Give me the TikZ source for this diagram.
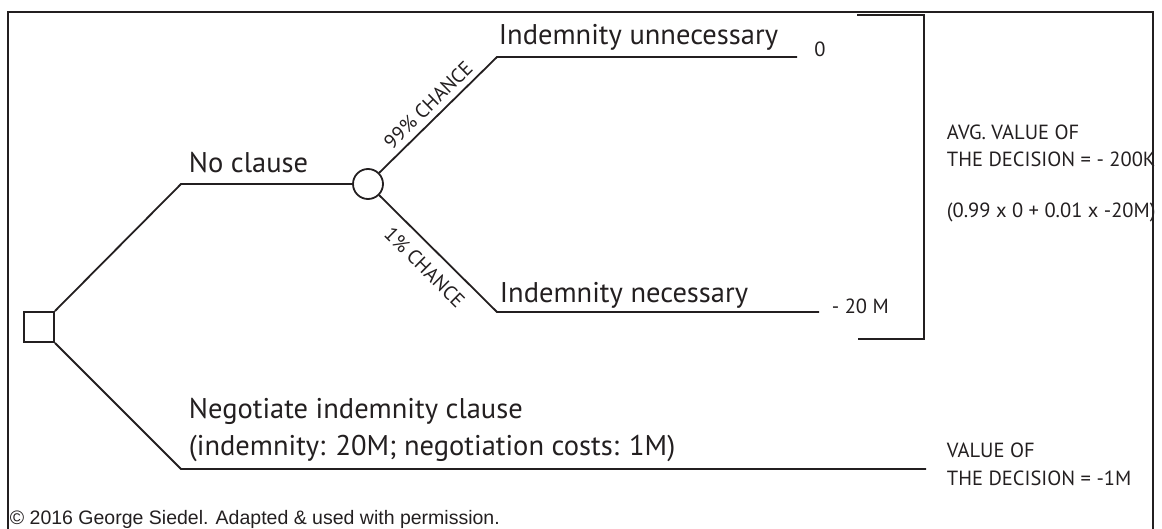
\documentclass[tikz,border=0pt]{standalone}
\usepackage{fontspec}
\setmainfont{PT Sans}
\newfontfamily\credfont{Liberation Sans}
\usetikzlibrary{positioning}
\definecolor{ink}{HTML}{231F20}

\begin{document}
\begin{tikzpicture}[x=1pt,y=-1pt,line width=1.8pt,ink,
    lbl/.style={anchor=base west,inner sep=0pt,font=\fontsize{28.5}{30}\selectfont},
    val/.style={anchor=base west,inner sep=0pt,font=\fontsize{20.5}{22}\selectfont},
    prob/.style={sloped,inner sep=0pt,font=\fontsize{20}{22}\selectfont}]
  \useasboundingbox (0,0) rectangle (1162,529);
  % frame
  \draw[line width=1.5pt] (8,529) -- (8,12) -- (1153,12) -- (1153,529);
  % decision and chance nodes
  \node[draw,minimum size=30pt,inner sep=0pt] (dec) at (39,327) {};
  \node[draw,circle,minimum size=30pt,inner sep=0pt] (chn) at (368,184) {};
  \coordinate (nc) at (181,184);
  \coordinate (up) at (497,57);
  \coordinate (upend) at (797,57);
  \coordinate (lo) at (497,312);
  \coordinate (loend) at (819,312);
  \coordinate (neg) at (181,469);
  \coordinate (negend) at (926,469);
  % branches
  \draw (chn.north east) -- node[prob,above=6pt]{99\% CHANCE} (up) -- (upend);
  \draw (chn.south east) -- node[prob,below=11pt]{1\% CHANCE} (lo) -- (loend);
  \draw (dec.north east) -- (nc) -- (chn.west);
  \draw (dec.south east) -- (neg) -- (negend);
  % labels
  \node[lbl] (nocl) at (188,173) {No clause};
  \node[lbl] (unnec) at (498,45) {Indemnity unnecessary};
  \node[lbl] (nec) at (499,303) {Indemnity necessary};
  \node[lbl] (neg1) at (188,418) {Negotiate indemnity clause};
  \node[lbl] (neg2) at (188,455) {(indemnity: 20M; negotiation costs: 1M)};
  % values
  \node[val,anchor=base] (v0) at (820,57) {0};
  \node[val] (v20) at (831,314) {- 20 M};
  \draw (857,15) -- (924,15) -- (924,339) -- (858,339);
  \node[val] (avg1) at (946,140) {AVG. VALUE OF};
  \node[val] (avg2) at (946,167) {THE DECISION = - 200K};
  \node[val] (avg3) at (946,218) {(0.99 x 0 + 0.01 x -20M)};
  \node[val] (dv1) at (946,457) {VALUE OF};
  \node[val] (dv2) at (946,485) {THE DECISION = -1M};
  \node[anchor=base west,inner sep=0pt,font=\credfont\fontsize{19.5}{22}\selectfont] (cred) at (9,524) {© 2016 George Siedel. Adapted \& used with permission.};
\end{tikzpicture}
\end{document}
